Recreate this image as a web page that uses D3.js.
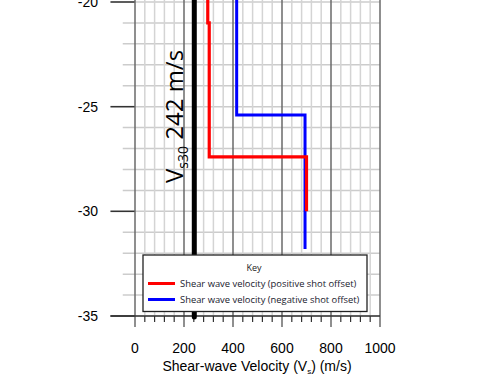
<!DOCTYPE html>
<html>
<head>
<meta charset="utf-8">
<script src="https://cdn.jsdelivr.net/npm/d3@7/dist/d3.min.js"></script>
<style>
  html, body { margin: 0; padding: 0; background: #fff; }
  svg { display: block; }
</style>
</head>
<body>
<div id="chart"></div>
<script>
// depth layers (m) and shear-wave velocity (m/s), positive shot offset
const posTop = [-19, -21, -27.4];
const posBottom = [-21, -27.4, -30];
const posVs = [297, 303, 700];

// negative shot offset
const negTop = [-19, -25.4];
const negBottom = [-25.4, -31.8];
const negVs = [415, 694];

const vs30 = 242;
const xTicks = [0, 200, 400, 600, 800, 1000];
const yTicks = [-20, -25, -30, -35];
const legendLabels = ['Shear wave velocity (positive shot offset)', 'Shear wave velocity (negative shot offset)'];
const legendColors = ['#ff0000', '#0000ff'];

const width = 483, height = 386;
const svg = d3.select('#chart').append('svg')
  .attr('width', width)
  .attr('height', height);

const x = d3.scaleLinear().domain([0, 1000]).range([135, 380]);
const y = d3.scaleLinear().domain([-35, -20]).range([316, 2]);
const yTop = y.invert(0);

svg.append('defs').append('clipPath').attr('id', 'plot')
  .append('rect')
  .attr('x', x(0)).attr('y', 0)
  .attr('width', x(1000) - x(0) + 2).attr('height', y(-35) - y(yTop) + 4);

// horizontal grid every 1 m, with small outside ticks
const hGrid = d3.range(-35, -19, 1);
svg.append('g').selectAll('line')
  .data(hGrid)
  .join('line')
  .attr('x1', d => yTicks.includes(d) ? x(-100) : x(-50))
  .attr('x2', x(1000))
  .attr('y1', d => y(d)).attr('y2', d => y(d))
  .attr('stroke', '#cccccc')
  .attr('stroke-width', 1.5);

// dark outside part of major y ticks
svg.append('g').selectAll('line')
  .data(yTicks)
  .join('line')
  .attr('x1', x(-100)).attr('x2', x(0))
  .attr('y1', d => y(d)).attr('y2', d => y(d))
  .attr('stroke', '#333')
  .attr('stroke-width', 1.5);

// vertical minor grid every 40 m/s
const vMinor = d3.range(0, 1001, 40).filter(v => v % 200 !== 0);
svg.append('g').selectAll('line')
  .data(vMinor)
  .join('line')
  .attr('x1', d => x(d)).attr('x2', d => x(d))
  .attr('y1', y(yTop)).attr('y2', y(-35))
  .attr('stroke', '#d4d4d4')
  .attr('stroke-width', 1.5);

// minor x ticks below axis
svg.append('g').selectAll('line')
  .data(vMinor)
  .join('line')
  .attr('x1', d => x(d)).attr('x2', d => x(d))
  .attr('y1', y(-35)).attr('y2', y(-35) + 6)
  .attr('stroke', '#333')
  .attr('stroke-width', 1.2);

// major vertical lines every 200 m/s
svg.append('g').selectAll('line')
  .data(xTicks)
  .join('line')
  .attr('x1', d => x(d)).attr('x2', d => x(d))
  .attr('y1', y(yTop)).attr('y2', y(-35) + 11)
  .attr('stroke', '#6a6a6a')
  .attr('stroke-width', 1.5);

// x axis line
svg.append('line')
  .attr('x1', x(-100)).attr('x2', x(1000))
  .attr('y1', y(-35)).attr('y2', y(-35))
  .attr('stroke', '#333')
  .attr('stroke-width', 1.5);

// profiles
const stepPoints = (tops, bottoms, vs) => {
  const pts = [];
  vs.forEach((v, i) => {
    pts.push([v, tops[i]]);
    pts.push([v, bottoms[i]]);
  });
  return pts;
};
const line = d3.line().x(d => x(d[0])).y(d => y(d[1]));

const plot = svg.append('g').attr('clip-path', 'url(#plot)');
plot.append('path')
  .attr('d', line(stepPoints(negTop, negBottom, negVs)))
  .attr('fill', 'none')
  .attr('stroke', legendColors[1])
  .attr('stroke-width', 3);
plot.append('path')
  .attr('d', line(stepPoints(posTop, posBottom, posVs)))
  .attr('fill', 'none')
  .attr('stroke', legendColors[0])
  .attr('stroke-width', 3.2);

// Vs30 line
svg.append('line')
  .attr('x1', x(vs30)).attr('x2', x(vs30))
  .attr('y1', y(yTop)).attr('y2', y(-35.05))
  .attr('stroke', '#000')
  .attr('stroke-width', 5)
  .attr('stroke-linecap', 'round');

// Vs30 label
const vsLabel = svg.append('text')
  .attr('transform', `translate(${x(vs30) - 11},183) rotate(-90)`)
  .attr('font-family', '"Open Sans", sans-serif')
  .attr('font-size', 24)
  .attr('fill', '#000');
vsLabel.append('tspan').text('V');
vsLabel.append('tspan').attr('font-size', 14).attr('dy', 5).text('s30');
vsLabel.append('tspan').attr('dy', -5).text(' ' + vs30 + ' m/s');

// legend
const lg = svg.append('g');
lg.append('rect')
  .attr('x', 143).attr('y', 255)
  .attr('width', 224).attr('height', 56.5)
  .attr('fill', '#fff')
  .attr('stroke', '#222')
  .attr('stroke-width', 1.3);
lg.append('text')
  .attr('x', 254).attr('y', 271)
  .attr('text-anchor', 'middle')
  .attr('font-family', '"Open Sans", sans-serif')
  .attr('font-size', 9)
  .attr('fill', '#222')
  .text('Key');
const items = lg.selectAll('g.item')
  .data(legendLabels)
  .join('g')
  .attr('class', 'item')
  .attr('transform', (d, i) => `translate(148,${283.5 + i * 16})`);
items.append('line')
  .attr('x1', 0).attr('x2', 27)
  .attr('stroke', (d, i) => legendColors[i])
  .attr('stroke-width', 3);
items.append('text')
  .attr('x', 32).attr('y', 3.2)
  .attr('font-family', '"Open Sans", sans-serif')
  .attr('font-size', 9.4)
  .attr('fill', '#1a1a2e')
  .text(d => d);

// tick labels
svg.append('g').selectAll('text')
  .data(xTicks)
  .join('text')
  .attr('x', d => x(d)).attr('y', 353)
  .attr('text-anchor', 'middle')
  .attr('font-family', 'Arial, "Liberation Sans", sans-serif')
  .attr('font-size', 14)
  .attr('fill', '#000')
  .text(d => d);

svg.append('g').selectAll('text')
  .data(yTicks)
  .join('text')
  .attr('x', 98).attr('y', d => y(d) + 5)
  .attr('text-anchor', 'end')
  .attr('font-family', 'Arial, "Liberation Sans", sans-serif')
  .attr('font-size', 14)
  .attr('fill', '#000')
  .text(d => d);

// axis title
const title = svg.append('text')
  .attr('x', 257).attr('y', 371)
  .attr('text-anchor', 'middle')
  .attr('font-family', 'Arial, "Liberation Sans", sans-serif')
  .attr('font-size', 14)
  .attr('fill', '#000');
title.append('tspan').text('Shear-wave Velocity (V');
title.append('tspan').attr('font-size', 8).attr('dy', 3).text('s');
title.append('tspan').attr('dy', -3).text(') (m/s)');
</script>
</body>
</html>
